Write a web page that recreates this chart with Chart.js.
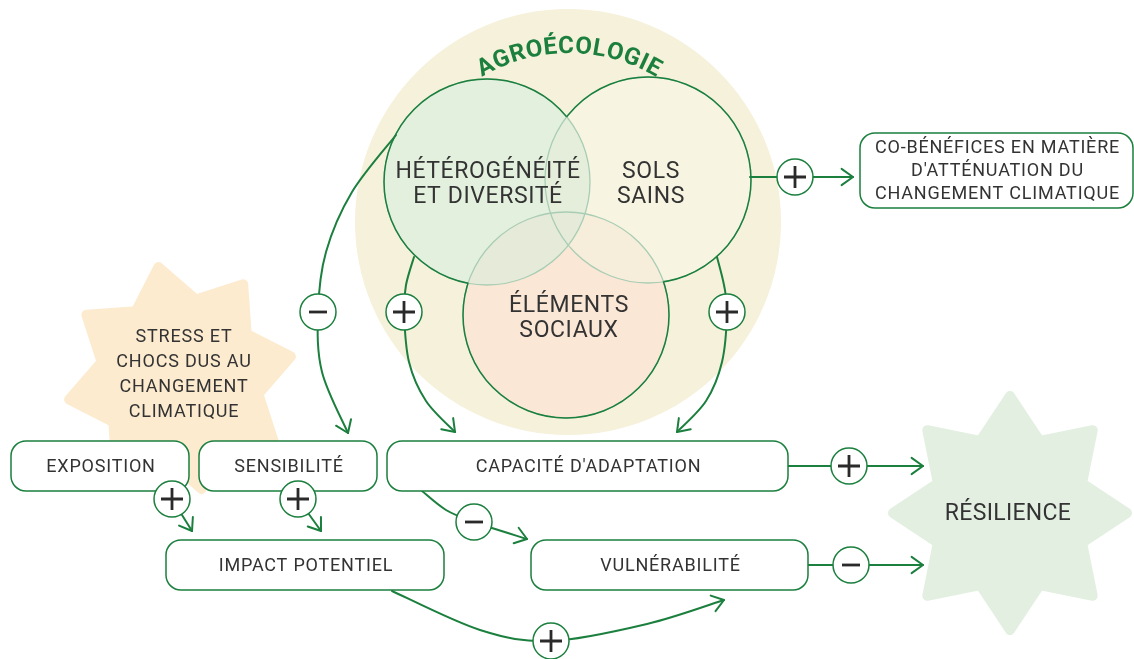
<!DOCTYPE html>
<html><head><meta charset="utf-8">
<script src="https://cdn.jsdelivr.net/npm/chart.js@4"></script>
<style>html,body{margin:0;padding:0;background:#fff;}#wrap{width:1134px;height:659px;position:relative;}</style>
</head><body><div id="wrap"><canvas id="c"></canvas></div>
<script>
// ---- diagram data (in diagram units) ----
const title = "AGROÉCOLOGIE";
const vennLabels = [["HÉTÉROGÉNÉITÉ","ET DIVERSITÉ"],["SOLS","SAINS"],["ÉLÉMENTS","SOCIAUX"]];
const vennX = [487, 648, 566];
const vennY = [182, 180, 315];
const vennR = [103, 103, 103];
const boxLabels = [["EXPOSITION"],["SENSIBILITÉ"],["CAPACITÉ D'ADAPTATION"],["IMPACT POTENTIEL"],["VULNÉRABILITÉ"],["CO-BÉNÉFICES EN MATIÈRE","D'ATTÉNUATION DU","CHANGEMENT CLIMATIQUE"]];
const boxX0 = [11, 199, 387, 166, 531, 860];
const boxX1 = [189, 377, 788, 444, 808, 1133];
const boxY0 = [441, 441, 441, 540, 540, 133];
const boxY1 = [491, 491, 491, 590, 590, 208];
const starLabels = [["STRESS ET","CHOCS DUS AU","CHANGEMENT","CLIMATIQUE"],["RÉSILIENCE"]];
const starX = [180, 1010];
const starY = [378, 513];
const signX = [318, 404, 727, 795, 849, 851, 474, 551, 172, 298];
const signY = [312, 312, 312, 177, 466, 565, 522, 641, 499, 499];
const signType = ['-','+','+','+','+','-','-','+','+','+'];
const arrowPaths = [
  [[396,135],[352,192],[326,252],[318,312],[322,372],[348,433]],
  [[414,257],[406,285],[404,312],[409,362],[426,401],[455,432]],
  [[717,257],[724,285],[727,312],[722,362],[706,401],[677,432]],
  [[750,177],[853,177]],
  [[788,466],[923,466]],
  [[808,565],[923,565]],
  [[422,491],[446,510],[474,522],[527,539]],
  [[392,591],[480,630],[551,641],[647,624],[724,600]],
  [[172,499],[192,531]],
  [[298,499],[321,531]]
];

const GREEN = '#1b7f3e';
const TEXT = '#333333';
const FONT = 'Roboto, "DejaVu Sans", sans-serif';

const diagram = {
  id: 'diagram',
  beforeDatasetsDraw(chart) {
    const ctx = chart.ctx, xs = chart.scales.x, ys = chart.scales.y;
    const px = v => xs.getPixelForValue(v), py = v => ys.getPixelForValue(v);
    const len = r => Math.abs(xs.getPixelForValue(r) - xs.getPixelForValue(0));
    ctx.save();
    // background agroecology disc
    ctx.fillStyle = '#f6f1db';
    ctx.beginPath(); ctx.arc(px(568), py(222), len(213), 0, Math.PI*2); ctx.fill();

    // stars
    function star(cx, cy, R, ri, rot, fill) {
      ctx.save();
      ctx.fillStyle = fill; ctx.strokeStyle = fill; ctx.lineWidth = 10; ctx.lineJoin = 'round';
      ctx.beginPath();
      for (let i = 0; i < 16; i++) {
        const a = rot + i * Math.PI / 8;
        const r = (i % 2 === 0 ? R : ri);
        const x = cx + r * Math.cos(a), y = cy + r * Math.sin(a);
        i ? ctx.lineTo(x, y) : ctx.moveTo(x, y);
      }
      ctx.closePath(); ctx.fill(); ctx.stroke();
      ctx.restore();
    }
    star(px(starX[0]), py(starY[0]), len(113), len(80), -101*Math.PI/180, '#fdebd0');
    star(px(starX[1]), py(starY[1]), len(117), len(78), -Math.PI/2, '#e3f0e1');

    // venn circles
    const C = vennX.map((x,i)=>({x:px(x), y:py(vennY[i]), r:len(vennR[i])}));
    const fills = ['#e3f0de', '#f7f4e1', '#fbe7d6'];
    [1,0,2].forEach(i => { ctx.fillStyle = fills[i]; ctx.beginPath(); ctx.arc(C[i].x, C[i].y, C[i].r, 0, Math.PI*2); ctx.fill(); });
    function clipCircle(c){ ctx.beginPath(); ctx.arc(c.x,c.y,c.r,0,Math.PI*2); ctx.clip(); }
    function fillInter(list, col){ ctx.save(); list.forEach(i=>clipCircle(C[i])); ctx.fillStyle = col; ctx.fillRect(0,0,chart.width,chart.height); ctx.restore(); }
    fillInter([0,1], '#e4eedb');
    fillInter([0,2], '#e6ebd9');
    fillInter([1,2], '#f6eedb');
    fillInter([0,1,2], '#e5ebd8');
    // faint inner strokes
    ctx.lineWidth = 1.3;
    ctx.strokeStyle = '#a9cdb4';
    C.forEach(c => { ctx.beginPath(); ctx.arc(c.x,c.y,c.r,0,Math.PI*2); ctx.stroke(); });
    // strong outer strokes
    C.forEach((c,i) => {
      ctx.save();
      C.forEach((o,j) => { if (j!==i) { ctx.beginPath(); ctx.rect(0,0,chart.width,chart.height); ctx.arc(o.x,o.y,o.r,0,Math.PI*2); ctx.clip('evenodd'); } });
      ctx.strokeStyle = GREEN; ctx.lineWidth = 1.5;
      ctx.beginPath(); ctx.arc(c.x,c.y,c.r,0,Math.PI*2); ctx.stroke();
      ctx.restore();
    });

    // curved title
    ctx.fillStyle = GREEN; ctx.font = 'bold 24px ' + FONT;
    ctx.textAlign = 'center'; ctx.textBaseline = 'alphabetic';
    const Rt = len(171), cx0 = px(569), cy0 = py(224), sp = 0.6;
    const widths = [...title].map(ch => ctx.measureText(ch).width + sp);
    const total = widths.reduce((a,b)=>a+b,0);
    let s = -total/2;
    [...title].forEach((ch,i) => {
      const mid = s + widths[i]/2;
      const a = -Math.PI/2 + mid / Rt;
      ctx.save();
      ctx.translate(cx0 + Rt*Math.cos(a), cy0 + Rt*Math.sin(a));
      ctx.rotate(a + Math.PI/2);
      ctx.fillText(ch, 0, 0);
      ctx.restore();
      s += widths[i];
    });

    // venn labels
    ctx.fillStyle = TEXT; ctx.font = '23px ' + FONT; ctx.textBaseline = 'middle';
    ctx.letterSpacing = '0.6px';
    const vOff = [-10,-8,-9];
    vennLabels.forEach((lines,i) => {
      lines.forEach((t,k) => ctx.fillText(t, C[i].x + (i===0?1:3), C[i].y + vOff[i] + k*25));
    });

    // star labels
    ctx.font = '18px ' + FONT; ctx.letterSpacing = '0.8px';
    starLabels[0].forEach((t,k) => ctx.fillText(t, px(starX[0]) + 4, py(337) + k*25));
    ctx.font = '23px ' + FONT; ctx.letterSpacing = '0.3px';
    ctx.fillText(starLabels[1][0], px(starX[1]) - 2, py(starY[1]) + 1);
    ctx.letterSpacing = '0px';

    // arrows
    ctx.strokeStyle = GREEN; ctx.lineWidth = 2; ctx.lineCap = 'round'; ctx.lineJoin = 'round';
    arrowPaths.forEach(path => {
      const P = path.map(p => [px(p[0]), py(p[1])]);
      ctx.beginPath(); ctx.moveTo(P[0][0], P[0][1]);
      let lastC = P[0];
      for (let i = 0; i < P.length - 1; i++) {
        const p0 = P[Math.max(i-1,0)], p1 = P[i], p2 = P[i+1], p3 = P[Math.min(i+2, P.length-1)];
        const c1 = [p1[0] + (p2[0]-p0[0])/6, p1[1] + (p2[1]-p0[1])/6];
        const c2 = [p2[0] - (p3[0]-p1[0])/6, p2[1] - (p3[1]-p1[1])/6];
        ctx.bezierCurveTo(c1[0],c1[1],c2[0],c2[1],p2[0],p2[1]);
        lastC = c2;
      }
      ctx.stroke();
      const E = P[P.length-1];
      let dx = E[0]-lastC[0], dy = E[1]-lastC[1];
      if (Math.hypot(dx,dy) < 1) { const Q = P[P.length-2]; dx = E[0]-Q[0]; dy = E[1]-Q[1]; }
      const ang = Math.atan2(dy, dx), L = 14, w = 0.62;
      ctx.beginPath();
      ctx.moveTo(E[0] - L*Math.cos(ang - w), E[1] - L*Math.sin(ang - w));
      ctx.lineTo(E[0], E[1]);
      ctx.lineTo(E[0] - L*Math.cos(ang + w), E[1] - L*Math.sin(ang + w));
      ctx.stroke();
    });

    // boxes
    ctx.lineWidth = 1.5; ctx.lineCap = 'butt';
    boxLabels.forEach((lines,i) => {
      const x0 = px(boxX0[i]), x1 = px(boxX1[i]), y0 = py(boxY0[i]), y1 = py(boxY1[i]);
      ctx.beginPath(); ctx.roundRect(x0, y0, x1-x0, y1-y0, 15);
      ctx.fillStyle = '#ffffff'; ctx.fill();
      ctx.strokeStyle = GREEN; ctx.stroke();
      ctx.fillStyle = TEXT; ctx.font = '18px ' + FONT; ctx.letterSpacing = '0.8px';
      ctx.textAlign = 'center'; ctx.textBaseline = 'middle';
      const cy = (y0+y1)/2, n = lines.length;
      lines.forEach((t,k) => ctx.fillText(t, (x0+x1)/2 + 1, cy + (k - (n-1)/2)*23 + 1));
      ctx.letterSpacing = '0px';
    });
    ctx.restore();
  },
  afterDatasetsDraw(chart) {
    const ctx = chart.ctx, xs = chart.scales.x, ys = chart.scales.y;
    ctx.save();
    ctx.strokeStyle = '#2a2a2a'; ctx.lineWidth = 2.8; ctx.lineCap = 'butt';
    signType.forEach((t,i) => {
      const x = xs.getPixelForValue(signX[i]), y = ys.getPixelForValue(signY[i]);
      ctx.beginPath();
      if (t === '+') { ctx.moveTo(x-11, y); ctx.lineTo(x+11, y); ctx.moveTo(x, y-11); ctx.lineTo(x, y+11); }
      else { ctx.moveTo(x-9, y); ctx.lineTo(x+9, y); }
      ctx.stroke();
    });
    ctx.restore();
  }
};

new Chart(document.getElementById('c'), {
  type: 'scatter',
  data: { datasets: [{
    data: signX.map((x,i)=>({x, y: signY[i]})),
    pointRadius: 18, pointHoverRadius: 18,
    pointBackgroundColor: '#ffffff', pointBorderColor: GREEN, pointBorderWidth: 1.5,
    showLine: false, clip: false
  }]},
  options: {
    responsive: true, maintainAspectRatio: false, animation: false, events: [],
    layout: { padding: 0, autoPadding: false },
    scales: {
      x: { type: 'linear', min: 0, max: 1134, display: false },
      y: { type: 'linear', min: 0, max: 659, reverse: true, display: false }
    },
    plugins: { legend: { display: false }, tooltip: { enabled: false } }
  },
  plugins: [diagram]
});
</script></body></html>
